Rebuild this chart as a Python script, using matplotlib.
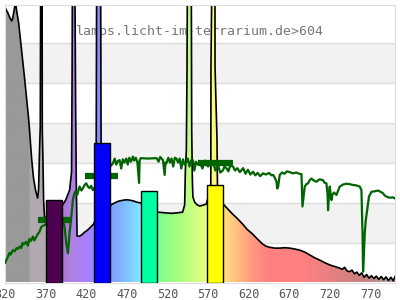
import numpy as np
import matplotlib
matplotlib.use("Agg")
import matplotlib.pyplot as plt
from matplotlib.colors import LinearSegmentedColormap
from matplotlib.patches import Polygon

# lamp spectrum (nm, relative value)
spec_nm = [320, 321.5, 323.1, 325.6, 328.1, 329.3, 331.7, 333.0, 334.2, 336.7,
           339.1, 341.6, 344.1, 346.5, 349.0, 350.2, 352.7, 355.1, 357.6, 360.1,
           361.3, 362.5, 363.4, 364.1, 365.6, 365.9, 366.6, 367.5, 368.7, 372,
           380, 388, 390.9, 394.6, 399.5, 401.9, 402.6, 403.2, 405.6, 406.9,
           407.7, 408.7, 411.8, 415, 418, 421, 424.1, 427, 429, 432,
           433, 437.5, 438.5, 444, 448.7, 451, 454.9, 458, 461, 466,
           470, 473.4, 478, 482, 486.9, 495, 506.6, 512, 518.9, 525,
           531.3, 538.6, 541.1, 542, 543.2, 544, 544.8, 549.1, 549.8, 550.6,
           551.3, 553.4, 556, 559.6, 563, 567.8, 573.3, 573.5, 575.3, 578.4,
           578.5, 580.9, 581.5, 586, 589.5, 595, 600.2, 606, 612.5, 618,
           624.8, 631, 637.2, 641, 645.8, 652, 658.1, 664, 670.4, 676,
           682.7, 689, 695, 701, 707.4, 713, 719.7, 726, 732, 735,
           738, 741, 744, 747, 750, 753, 756, 759, 762, 765,
           768, 771, 774, 777, 780, 783, 786, 789, 792, 795,
           798, 800]
spec_val = [6.89, 6.82, 6.76, 6.64, 6.54, 6.59, 6.86, 7.05, 6.81, 6.51,
            6.06, 5.61, 5.11, 4.61, 4.11, 3.81, 3.11, 2.61, 2.31, 2.11,
            2.31, 3.31, 3.89, 9.0, 9.0, 3.81, 3.19, 2.06, 1.61, 1.65,
            1.8, 1.95, 1.94, 2.06, 2.31, 2.76, 5.31, 9.0, 9.0, 4.56,
            2.56, 1.16, 1.16, 1.2, 1.26, 1.3, 1.36, 1.42, 1.46, 1.6,
            9.0, 9.0, 1.9, 1.9, 1.89, 1.95, 1.99, 2.02, 2.04, 2.06,
            2.07, 2.06, 2.04, 2.01, 1.99, 1.85, 1.76, 1.75, 1.74, 1.73,
            1.74, 1.76, 1.94, 2.81, 3.31, 5.31, 9.0, 9.0, 3.81, 2.56,
            2.14, 2.01, 1.95, 1.91, 1.93, 1.96, 2.4, 5.4, 9.0, 9.0,
            5.4, 3.6, 2.4, 2.0, 1.94, 1.82, 1.71, 1.6, 1.46, 1.33,
            1.21, 1.08, 0.96, 0.91, 0.88, 0.86, 0.86, 0.87, 0.86, 0.84,
            0.81, 0.76, 0.69, 0.62, 0.56, 0.5, 0.44, 0.4, 0.36, 0.33,
            0.38, 0.29, 0.27, 0.31, 0.22, 0.26, 0.18, 0.24, 0.13, 0.2,
            0.11, 0.17, 0.1, 0.16, 0.08, 0.15, 0.07, 0.14, 0.05, 0.13,
            0.04, 0.15]

# reference curve (green)
ref_nm = [320, 323, 325.6, 327, 329.7, 332, 334.2, 336, 337.9, 340,
          341.6, 343, 346.2, 348, 350.2, 352, 354.3, 356, 357.6, 360,
          362.5, 364.6, 368.7, 375, 385, 391.2, 393.3, 395.4, 397.4, 399.5,
          401.6, 403.5, 405, 406.9, 409, 411.8, 414, 415.9, 418, 420,
          422, 424.1, 426, 428.2, 435, 445, 448.7, 450.5, 452.8, 455,
          457, 459, 461.1, 463, 465, 467, 469.3, 471, 473, 475,
          477.4, 479, 481, 483, 485, 485.7, 487, 495, 506.6, 509,
          511, 514.4, 516.5, 517.5, 518.6, 521, 523, 525, 527, 529,
          530.9, 533, 535, 537, 539, 541, 543.3, 545, 547, 549,
          551.3, 553, 555, 557, 559.6, 563, 566, 570, 573, 576,
          579, 582, 585, 588.4, 590, 592.5, 595, 597, 600.7, 603,
          606, 609, 613.1, 616, 619, 622, 625.4, 628, 631, 634,
          637.7, 641, 645, 648, 650.1, 652, 654.2, 655, 656.2, 658.1,
          661, 664, 667, 670.4, 674, 678.7, 682, 684.9, 686.1, 688.9,
          691, 693, 695, 697.2, 700, 703.3, 707, 711.4, 713, 715.6,
          717, 717.6, 718.5, 719.7, 720.8, 721.8, 723, 725, 727.9, 730,
          732, 736, 740, 744.3, 748, 752, 756.6, 758.7, 760, 760.7,
          761.5, 762.8, 764, 766.9, 768, 771.1, 775, 779.2, 782, 785.4,
          787, 789.5, 793, 797.7, 800]
ref_val = [0.49, 0.62, 0.74, 0.7, 0.81, 0.78, 0.86, 0.84, 0.9, 0.86,
           0.99, 0.95, 1.02, 0.92, 1.09, 1.04, 1.15, 1.05, 1.11, 1.2,
           1.27, 1.39, 1.44, 1.5, 1.55, 1.56, 1.39, 0.98, 0.73, 1.24,
           1.64, 2.06, 2.2, 2.29, 2.2, 2.4, 2.3, 2.36, 2.44, 2.48,
           2.4, 2.36, 2.42, 2.31, 2.5, 2.9, 3.02, 2.92, 2.98, 3.1,
           2.95, 3.04, 3.06, 2.85, 3.08, 3.0, 3.1, 2.95, 3.12, 3.02,
           3.15, 3.05, 3.12, 3.0, 2.49, 3.05, 3.11, 3.1, 3.11, 3.02,
           3.14, 3.06, 2.69, 3.0, 2.98, 3.12, 3.0, 3.1, 2.9, 3.12,
           3.1, 3.0, 3.1, 2.85, 3.08, 2.95, 3.02, 3.1, 2.9, 3.05,
           3.06, 2.8, 3.02, 2.95, 3.02, 2.85, 3.05, 2.9, 3.02, 3.02,
           2.8, 2.95, 2.75, 2.81, 2.9, 2.86, 2.78, 2.92, 2.9, 2.8,
           2.86, 2.76, 2.86, 2.72, 2.82, 2.7, 2.77, 2.68, 2.74, 2.66,
           2.73, 2.7, 2.74, 2.68, 2.69, 2.62, 2.52, 2.35, 2.4, 2.69,
           2.75, 2.72, 2.78, 2.76, 2.73, 2.75, 2.72, 2.71, 1.9, 2.4,
           2.46, 2.48, 2.56, 2.6, 2.55, 2.52, 2.58, 2.56, 2.5, 2.48,
           2.2, 1.81, 2.1, 2.4, 2.2, 2.06, 2.2, 2.25, 2.19, 2.3,
           2.4, 2.45, 2.47, 2.46, 2.44, 2.43, 2.4, 2.31, 1.24, 0.27,
           0.6, 1.24, 1.55, 1.98, 2.15, 2.27, 2.28, 2.3, 2.27, 2.23,
           2.18, 2.15, 2.12, 2.13, 2.1]

# band averages of the reference curve
band_lo = [360, 418, 557]
band_hi = [400, 459, 600]
band_val = [1.56, 2.66, 3.0]

# lamp band bars
bar_center = [380, 439, 497, 578]
bar_height = [2.06, 3.48, 2.29, 2.45]
bar_colors = ["#4b0050", "#0000ff", "#00ffa0", "#ffff00"]

# colour of the spectrum fill along the wavelength axis
color_nm = [320, 349.9, 350, 379.9, 380, 400, 420, 440, 460, 480,
            495, 510, 530, 555, 575, 590, 605, 625, 645, 690,
            720, 760, 790, 800]
color_hex = ["#999999", "#999999", "#b0a9b0", "#b0a9b0", "#a070c0", "#b080e0",
             "#a880ff", "#8890ff", "#80b0ff", "#80d8ff", "#80ffff", "#80ff90",
             "#a0ff80", "#d0ff80", "#f8ff80", "#ffe080", "#ffc080", "#ff9880",
             "#ff8080", "#ff8080", "#e88080", "#c88080", "#b09898", "#a8a8a8"]

tick_nm = [320, 370, 420, 470, 520, 570, 620, 670, 720, 770]
title = "lamps.licht-im-terrarium.de>604"

x_min, x_max = 320, 800
y_max = 6.94

fig = plt.figure(figsize=(4, 3), dpi=100)
ax = fig.add_axes([5 / 400, 17.5 / 300, 390 / 400, 277.5 / 300])
ax.set_xlim(x_min, x_max)
ax.set_ylim(0, y_max)

# striped background
for lo in [1, 3, 5]:
    ax.axhspan(lo, lo + 1, color="#f2f2f2", zorder=0, lw=0)
for y in range(1, 7):
    ax.axhline(y, color="#dddddd", lw=1, zorder=0.5)

ax.text(0.5, 1 - 27 / 277.5, title, transform=ax.transAxes, ha="center",
        va="center", family="DejaVu Sans Mono", fontsize=9.5, color="#777777",
        zorder=0.8)

# gradient fill clipped to spectrum
pos = [(n - x_min) / (x_max - x_min) for n in color_nm]
cmap = LinearSegmentedColormap.from_list("spec", list(zip(pos, color_hex)))
grad = np.linspace(0, 1, 1000).reshape(1, -1)
im = ax.imshow(grad, cmap=cmap, extent=[x_min, x_max, 0, 10], aspect="auto",
               interpolation="bilinear", zorder=1)
verts = [(spec_nm[0], 0)] + list(zip(spec_nm, spec_val)) + [(spec_nm[-1], 0)]
poly = Polygon(verts, closed=True, facecolor="none", edgecolor="none",
               transform=ax.transData)
ax.add_patch(poly)
im.set_clip_path(poly)
ax.set_ylim(0, y_max)

ax.plot(spec_nm, spec_val, color="black", lw=1.2, zorder=2)
ax.plot(ref_nm, ref_val, color="#006400", lw=1.6, zorder=3)
ax.hlines(band_val, band_lo, band_hi, color="#006400", lw=4.5, zorder=4)
ax.bar(bar_center, bar_height, width=20, color=bar_colors, edgecolor="black",
       lw=1, zorder=5)

ax.set_xticks(tick_nm)
ax.set_xticklabels([str(t) for t in tick_nm], family="DejaVu Sans Mono",
                   fontsize=8.5, color="#555555")
ax.set_yticks([])
ax.tick_params(axis="x", length=0, pad=4)
for s in ax.spines.values():
    s.set_color("#dddddd")

fig.savefig("out.png", dpi=100)
